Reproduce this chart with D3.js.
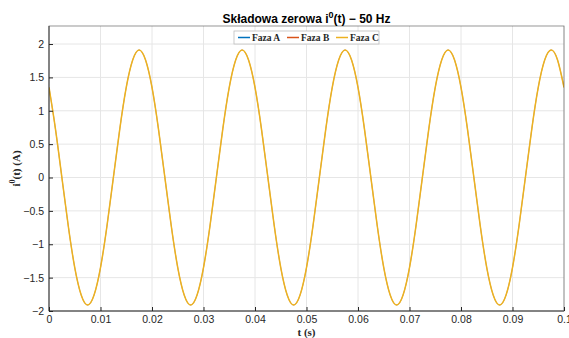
<!DOCTYPE html>
<html>
<head>
<meta charset="utf-8">
<script src="https://cdn.jsdelivr.net/npm/d3@7"></script>
<style>
  body { margin: 0; background: #fff; }
  svg { display: block; }
</style>
</head>
<body>
<div id="chart"></div>
<script>
/* zero-sequence current, values every 1.25 ms */
var tStep = 0.00125;
var faza = ["Faza A", "Faza B", "Faza C"];
var kolory = ["#0072BD", "#D95319", "#EDB120"];
var i0 = [
  1.35, 0.73, 0, -0.73, -1.35, -1.76, -1.91, -1.76, -1.35, -0.73, 0, 0.73, 1.35, 1.76, 1.91, 1.76,
  1.35, 0.73, 0, -0.73, -1.35, -1.76, -1.91, -1.76, -1.35, -0.73, 0, 0.73, 1.35, 1.76, 1.91, 1.76,
  1.35, 0.73, 0, -0.73, -1.35, -1.76, -1.91, -1.76, -1.35, -0.73, 0, 0.73, 1.35, 1.76, 1.91, 1.76,
  1.35, 0.73, 0, -0.73, -1.35, -1.76, -1.91, -1.76, -1.35, -0.73, 0, 0.73, 1.35, 1.76, 1.91, 1.76,
  1.35, 0.73, 0, -0.73, -1.35, -1.76, -1.91, -1.76, -1.35, -0.73, 0, 0.73, 1.35, 1.76, 1.91, 1.76,
  1.35
];
var xTicks = [0, 0.01, 0.02, 0.03, 0.04, 0.05, 0.06, 0.07, 0.08, 0.09, 0.1];
var yTicks = [-2, -1.5, -1, -0.5, 0, 0.5, 1, 1.5, 2];

var width = 569, height = 338;
var margin = { top: 26, right: 5, bottom: 27, left: 49 };
var w = width - margin.left - margin.right,
    h = height - margin.top - margin.bottom;

var svg = d3.select("#chart").append("svg")
  .attr("width", width).attr("height", height);

var g = svg.append("g")
  .attr("transform", "translate(" + margin.left + "," + margin.top + ")");

var x = d3.scaleLinear().domain([0, 0.1]).range([0, w]);
var y = d3.scaleLinear().domain([-2, 2.27]).range([h, 0]);

// grid
g.append("g").selectAll("line").data(xTicks).enter().append("line")
  .attr("x1", function(d) { return x(d); }).attr("x2", function(d) { return x(d); })
  .attr("y1", 0).attr("y2", h)
  .attr("stroke", "#e6e6e6").attr("stroke-width", 1);
g.append("g").selectAll("line").data(yTicks).enter().append("line")
  .attr("y1", function(d) { return y(d); }).attr("y2", function(d) { return y(d); })
  .attr("x1", 0).attr("x2", w)
  .attr("stroke", "#e6e6e6").attr("stroke-width", 1);

// lines (A and B lie exactly under C)
var line = d3.line()
  .x(function(d, i) { return x(i * tStep); })
  .y(function(d) { return y(d); })
  .curve(d3.curveNatural);

g.append("defs").append("clipPath").attr("id", "clip")
  .append("rect").attr("width", w).attr("height", h);

faza.forEach(function(f, k) {
  g.append("path")
    .datum(i0)
    .attr("clip-path", "url(#clip)")
    .attr("fill", "none")
    .attr("stroke", kolory[k])
    .attr("stroke-width", k === 2 ? 1.5 : 0.3)
    .attr("d", line);
});

// axes
var xAxis = d3.axisBottom(x).tickValues(xTicks).tickSize(-4).tickPadding(5)
  .tickFormat(function(d) { return d3.format("~g")(d); });
var yAxis = d3.axisLeft(y).tickValues(yTicks).tickSize(-4).tickPadding(5)
  .tickFormat(function(d) { return d3.format("~g")(d); });

var gx = g.append("g").attr("transform", "translate(0," + h + ")").call(xAxis);
var gy = g.append("g").call(yAxis);
[gx, gy].forEach(function(a) {
  a.select(".domain").remove();
  a.selectAll("line").attr("stroke", "#262626");
  a.selectAll("text").attr("fill", "#262626")
    .style("font-family", "Liberation Sans, Arial, sans-serif").style("font-size", "10.5px");
});

// box
g.append("rect").attr("width", w).attr("height", h)
  .attr("fill", "none").attr("stroke", "#262626").attr("stroke-width", 0.8).attr("opacity", 0.6);
g.append("line").attr("x1", 0).attr("x2", w).attr("y1", h).attr("y2", h)
  .attr("stroke", "#262626").attr("stroke-width", 0.8);
g.append("line").attr("x1", 0).attr("x2", 0).attr("y1", 0).attr("y2", h)
  .attr("stroke", "#262626").attr("stroke-width", 0.8);

// title
var title = svg.append("text")
  .attr("x", margin.left + w / 2).attr("y", 23)
  .attr("text-anchor", "middle")
  .style("font-family", "Liberation Sans, Arial, sans-serif")
  .style("font-weight", "bold").style("font-size", "12px")
  .attr("fill", "#000");
title.append("tspan").text("Składowa zerowa i");
title.append("tspan").attr("dy", -5).style("font-size", "9px").text("0");
title.append("tspan").attr("dy", 5).text("(t) \u2212 50 Hz");

// axis labels
svg.append("text")
  .attr("x", margin.left + w / 2).attr("y", 336)
  .attr("text-anchor", "middle")
  .style("font-family", "Liberation Serif, Times New Roman, serif")
  .style("font-weight", "bold").style("font-size", "11px")
  .attr("fill", "#262626")
  .text("t (s)");

var yl = svg.append("text")
  .attr("transform", "translate(20," + (margin.top + h / 2) + ") rotate(-90)")
  .attr("text-anchor", "middle")
  .style("font-family", "Liberation Serif, Times New Roman, serif")
  .style("font-weight", "bold").style("font-size", "11px")
  .attr("fill", "#262626");
yl.append("tspan").text("i");
yl.append("tspan").attr("dy", -5).style("font-size", "8px").text("0");
yl.append("tspan").attr("dy", 5).text("(t) (A)");

// legend
var lg = svg.append("g").attr("transform", "translate(234,31)");
lg.append("rect").attr("width", 145).attr("height", 13)
  .attr("fill", "#fff").attr("stroke", "#bdbdbd").attr("stroke-width", 0.8);
var lx = [4, 53, 102];
faza.forEach(function(f, k) {
  lg.append("line")
    .attr("x1", lx[k]).attr("x2", lx[k] + 12).attr("y1", 6.5).attr("y2", 6.5)
    .attr("stroke", kolory[k]).attr("stroke-width", 1.5);
  lg.append("text")
    .attr("x", lx[k] + 14).attr("y", 10)
    .style("font-family", "Liberation Serif, Times New Roman, serif")
    .style("font-weight", "bold").style("font-size", "9.5px")
    .attr("fill", "#262626")
    .text(f);
});
</script>
</body>
</html>
